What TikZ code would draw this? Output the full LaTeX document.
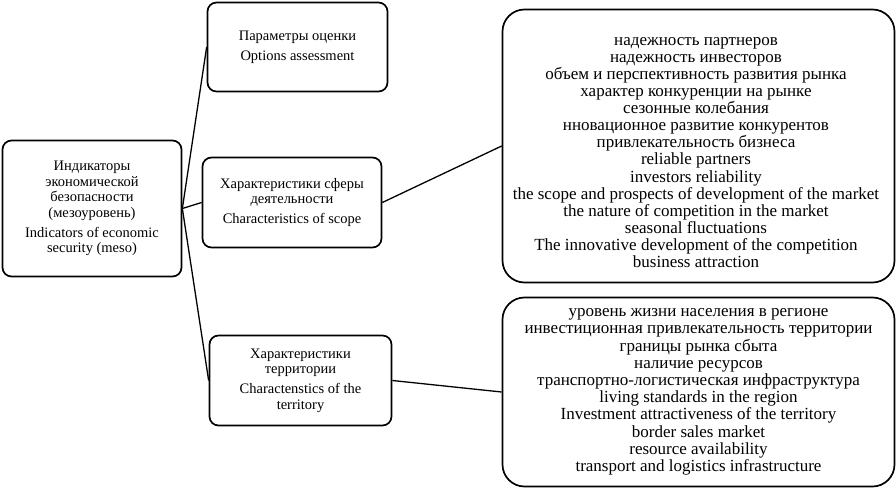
\documentclass[tikz,border=0pt]{standalone}
\usepackage{fontspec}
\setmainfont{Liberation Serif}
\begin{document}
\begin{tikzpicture}[x=1pt,y=-1pt,
  box/.style={draw, line width=1.7pt, rounded corners=9pt, inner sep=0pt, align=center,
    font=\fontsize{14.5}{15.5}\selectfont},
  bigbox/.style={draw, line width=1.7pt, rounded corners=22pt, inner sep=0pt, align=center,
    font=\fontsize{17}{17.2}\selectfont},
  bigtext/.style={inner sep=0pt, align=center, font=\fontsize{17}{17.1}\selectfont},
  link/.style={line width=1.3pt}]
\useasboundingbox[fill=white] (0,0) rectangle (896,489);
\node[box, minimum width=179pt, minimum height=136pt] (ind) at (92,208.5)
  {Индикаторы\\экономической\\безопасности\\(мезоуровень)\\[4.5pt]Indicators of economic\\security (meso)};
\node[box, minimum width=180pt, minimum height=89pt] (par) at (297.5,47)
  {Параметры оценки\\[4.5pt]Options assessment};
\node[box, minimum width=179pt, minimum height=90pt] (scope) at (292,202.5)
  {Характеристики сферы\\деятельности\\[4.5pt]Characteristics of scope};
\node[box, minimum width=182pt, minimum height=90pt] (terr) at (300.5,380.5)
  {Характеристики\\территории\\[4.5pt]Charactenstics of the\\territory};
\node[bigbox, minimum width=392pt, minimum height=273pt] (sfera) at (698.5,146) {};
\node[bigtext] (sferatext) at (696,152.5)
  {надежность партнеров\\надежность инвесторов\\объем и перспективность развития рынка\\характер конкуренции на рынке\\сезонные колебания\\нновационное развитие конкурентов\\привлекательность бизнеса\\reliable partners\\investors reliability\\the scope and prospects of development of the market\\the nature of competition in the market\\seasonal fluctuations\\The innovative development of the competition\\business attraction};
\node[bigbox, minimum width=392pt, minimum height=189pt] (terrlist) at (698.5,392)
  {уровень жизни населения в регионе\\инвестиционная привлекательность территории\\границы рынка сбыта\\наличие ресурсов\\транспортно-логистическая инфраструктура\\living standards in the region\\Investment attractiveness of the territory\\border sales market\\resource availability\\transport and logistics infrastructure};
\draw[link] (ind.east) -- (par.west);
\draw[link] (ind.east) -- (scope.west);
\draw[link] (ind.east) -- (terr.west);
\draw[link] (scope.east) -- (sfera.west);
\draw[link] (terr.east) -- (terrlist.west);
\end{tikzpicture}
\end{document}
